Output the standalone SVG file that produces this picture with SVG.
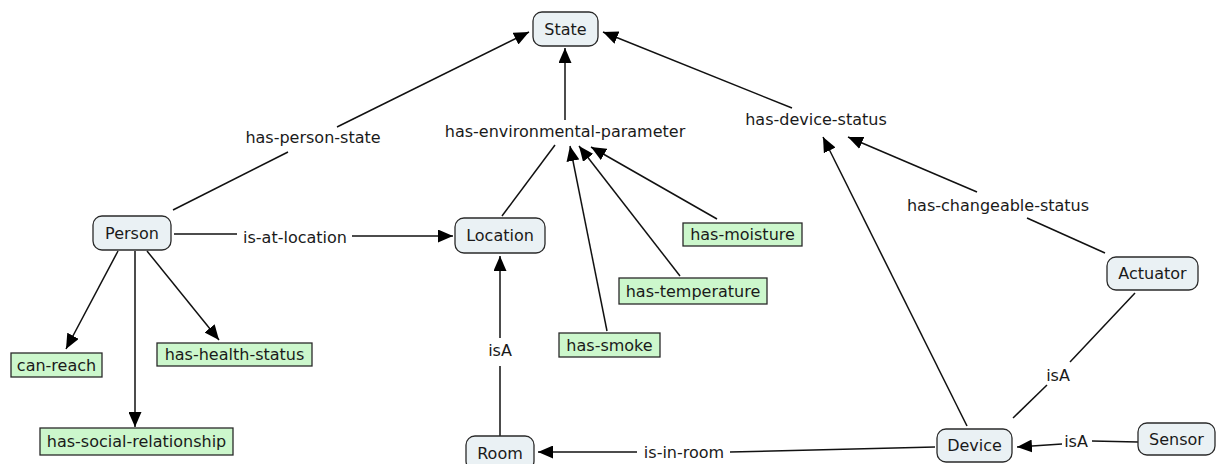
<svg xmlns="http://www.w3.org/2000/svg" width="1218" height="464" viewBox="0 0 1218 464">
  <defs>
    <marker id="arrow" markerUnits="userSpaceOnUse" markerWidth="15" markerHeight="13" refX="15" refY="6.5" orient="auto">
      <path d="M0,0 L15,6.5 L0,13 z" fill="#000"/>
    </marker>
    <style>
      text { font-family: "DejaVu Sans", Verdana, sans-serif; font-size: 16px; fill: #1a1a1a; text-anchor: middle; }
      .concept rect { fill: #eaf1f4; stroke: #2a2a2a; stroke-width: 1.3; }
      .attr rect { fill: #ccf7cc; stroke: #2a2a2a; stroke-width: 1.3; }
      #connectors line { stroke: #111; stroke-width: 1.5; fill: none; }
      #connectors line.arr { marker-end: url(#arrow); }
    </style>
  </defs>
  <rect width="1218" height="464" fill="#ffffff"/>

  <!-- connectors and their labels -->
  <g id="connectors">
    <!-- Person has-person-state State -->
    <line x1="173" y1="210" x2="288" y2="152"/>
    <line class="arr" x1="337" y1="127" x2="529" y2="32"/>
    <text x="313" y="143">has-person-state</text>

    <!-- Location has-environmental-parameter State -->
    <line x1="502" y1="216" x2="555" y2="145"/>
    <line class="arr" x1="565" y1="120" x2="565" y2="48"/>
    <text x="565" y="137">has-environmental-parameter</text>
    <line class="arr" x1="607" y1="331" x2="570" y2="146"/>
    <line class="arr" x1="680" y1="276" x2="579" y2="146"/>
    <line class="arr" x1="717" y1="219" x2="591" y2="147"/>

    <!-- has-device-status -->
    <line class="arr" x1="792" y1="108" x2="603" y2="32"/>
    <text x="816" y="125">has-device-status</text>
    <line class="arr" x1="967" y1="426" x2="823" y2="137"/>
    <line class="arr" x1="977" y1="192" x2="848" y2="137"/>

    <!-- Actuator has-changeable-status -->
    <line x1="1105" y1="253" x2="1027" y2="218"/>
    <text x="998" y="211">has-changeable-status</text>

    <!-- Actuator isA Device -->
    <line x1="1135" y1="293" x2="1070" y2="362"/>
    <line x1="1047" y1="385" x2="1013" y2="418"/>
    <text x="1058" y="381">isA</text>

    <!-- Sensor isA Device -->
    <line x1="1138" y1="442" x2="1092" y2="441"/>
    <line class="arr" x1="1062" y1="444" x2="1017" y2="447"/>
    <text x="1076" y="447">isA</text>

    <!-- Device is-in-room Room -->
    <line x1="935" y1="447" x2="730" y2="452"/>
    <line class="arr" x1="637" y1="452" x2="538" y2="452"/>
    <text x="684" y="458">is-in-room</text>

    <!-- Room isA Location -->
    <line x1="500" y1="436" x2="500" y2="366"/>
    <line class="arr" x1="500" y1="338" x2="500" y2="256"/>
    <text x="500" y="356">isA</text>

    <!-- Person is-at-location Location -->
    <line x1="174" y1="234" x2="237" y2="234"/>
    <line class="arr" x1="352" y1="236" x2="453" y2="236"/>
    <text x="295" y="243">is-at-location</text>

    <!-- Person attributes -->
    <line class="arr" x1="118" y1="251" x2="66" y2="349"/>
    <line class="arr" x1="135" y1="251" x2="135" y2="427"/>
    <line class="arr" x1="147" y1="251" x2="219" y2="340"/>
  </g>

  <!-- concepts -->
  <g id="state" class="concept">
    <rect x="533" y="12" width="65" height="34" rx="9"/>
    <text x="565.5" y="35">State</text>
  </g>
  <g id="person" class="concept">
    <rect x="93" y="216" width="78" height="34" rx="9"/>
    <text x="132" y="239">Person</text>
  </g>
  <g id="location" class="concept">
    <rect x="455" y="218" width="90" height="35" rx="9"/>
    <text x="500" y="241">Location</text>
  </g>
  <g id="room" class="concept">
    <rect x="466" y="436" width="68" height="34" rx="9"/>
    <text x="500" y="459">Room</text>
  </g>
  <g id="device" class="concept">
    <rect x="937" y="429" width="75" height="33" rx="9"/>
    <text x="974.5" y="451">Device</text>
  </g>
  <g id="sensor" class="concept">
    <rect x="1138" y="423" width="77" height="32" rx="9"/>
    <text x="1176.5" y="445">Sensor</text>
  </g>
  <g id="actuator" class="concept">
    <rect x="1107" y="257" width="91" height="33" rx="9"/>
    <text x="1152.5" y="279">Actuator</text>
  </g>

  <!-- attribute boxes -->
  <g id="can-reach" class="attr">
    <rect x="11" y="353" width="91" height="24"/>
    <text x="56.5" y="371">can-reach</text>
  </g>
  <g id="has-health-status" class="attr">
    <rect x="157" y="343" width="155" height="23"/>
    <text x="234.5" y="360">has-health-status</text>
  </g>
  <g id="has-social-relationship" class="attr">
    <rect x="40" y="428" width="193" height="27"/>
    <text x="136.5" y="447">has-social-relationship</text>
  </g>
  <g id="has-moisture" class="attr">
    <rect x="683" y="223" width="119" height="23"/>
    <text x="742.5" y="240">has-moisture</text>
  </g>
  <g id="has-temperature" class="attr">
    <rect x="619" y="278" width="148" height="26"/>
    <text x="693" y="297">has-temperature</text>
  </g>
  <g id="has-smoke" class="attr">
    <rect x="559" y="333" width="101" height="24"/>
    <text x="609.5" y="351">has-smoke</text>
  </g>
</svg>
